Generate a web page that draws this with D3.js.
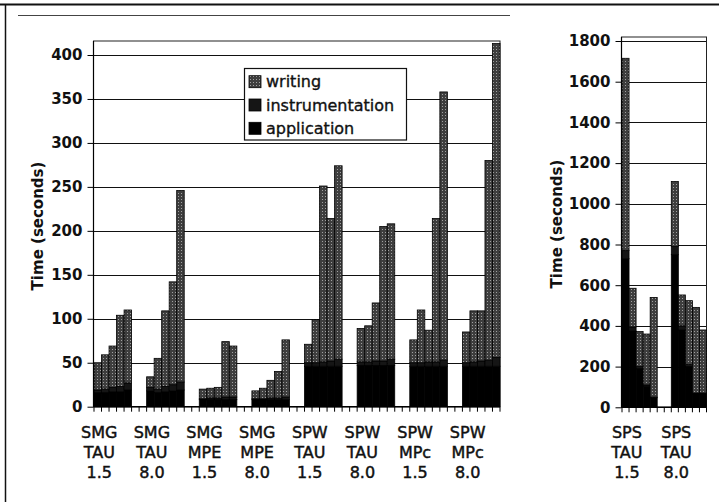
<!DOCTYPE html>
<html>
<head>
<meta charset="utf-8">
<script src="https://cdn.jsdelivr.net/npm/d3@7"></script>
<style>
  body { margin: 0; background: #fff; }
  svg { display: block; }
  text { font-family: "DejaVu Sans", Verdana, sans-serif; fill: #111; }
</style>
</head>
<body>
<svg id="chart" width="719" height="502"></svg>
<script>
// ---- data (seconds), 5 runs per configuration ----
const groupsLeft = ["SMG TAU 1.5", "SMG TAU 8.0", "SMG MPE 1.5", "SMG MPE 8.0",
                    "SPW TAU 1.5", "SPW TAU 8.0", "SPW MPc 1.5", "SPW MPc 8.0"];
const applicationLeft = [
  [16, 16, 17, 17, 19], [18, 16, 17, 18, 19], [8, 8, 8, 8, 8], [8, 8, 8, 8, 8],
  [46, 46, 46, 46, 46], [47, 47, 47, 47, 47], [46, 46, 46, 46, 46], [46, 46, 46, 46, 46]
];
const instrumentationLeft = [
  [3, 4, 5, 6, 8], [4, 4, 6, 7, 9], [1, 2, 2, 3, 3], [1, 1, 2, 2, 3],
  [4, 4, 5, 6, 8], [4, 4, 5, 5, 7], [4, 4, 5, 5, 7], [4, 5, 6, 7, 10]
];
const writingLeft = [
  [31, 39, 47, 81, 83], [12, 35, 86, 117, 218], [11, 11, 12, 63, 58], [9, 12, 20, 30, 65],
  [21, 49, 200, 162, 220], [38, 41, 66, 153, 154], [26, 60, 36, 163, 305], [35, 58, 57, 227, 357]
];
const ticksLeft = [0, 50, 100, 150, 200, 250, 300, 350, 400];

const groupsRight = ["SPS TAU 1.5", "SPS TAU 8.0"];
const applicationRight = [[730, 375, 190, 104, 47], [750, 380, 200, 66, 66]];
const instrumentationRight = [[40, 20, 10, 6, 3], [40, 20, 10, 4, 4]];
const writingRight = [[945, 190, 172, 250, 490], [320, 152, 314, 421, 310]];
const ticksRight = [0, 200, 400, 600, 800, 1000, 1200, 1400, 1600, 1800];

const seriesKeys = ["application", "instrumentation", "writing"];
const legendKeys = ["writing", "instrumentation", "application"];

const svg = d3.select("#chart");
svg.append("rect").attr("width", 719).attr("height", 502).attr("fill", "#fff");

// stippled grey fill like the printed "writing" pattern
const defs = svg.append("defs");
const pat = defs.append("pattern").attr("id", "stipple")
  .attr("patternUnits", "userSpaceOnUse").attr("width", 3).attr("height", 3);
pat.append("rect").attr("width", 3).attr("height", 3).attr("fill", "#3e3e3e");
pat.append("rect").attr("x", 1).attr("y", 1).attr("width", 1).attr("height", 1).attr("fill", "#a0a0a0");

const fills = { application: "#000", instrumentation: "#151515", writing: "url(#stipple)" };

// page frame from the scan
svg.append("line").attr("x1", 0).attr("x2", 719).attr("y1", 4.5).attr("y2", 4.5)
  .attr("stroke", "#111").attr("stroke-width", 2);
svg.append("line").attr("x1", 5.5).attr("x2", 5.5).attr("y1", 4).attr("y2", 502)
  .attr("stroke", "#111").attr("stroke-width", 1.5);
svg.append("line").attr("x1", 18).attr("x2", 510).attr("y1", 15.5).attr("y2", 15.5)
  .attr("stroke", "#444").attr("stroke-width", 1);

function drawPanel(p) {
  // category slots: 5 bars per group, 2 empty slots between groups
  const cats = [];
  const rows = [];
  p.groups.forEach((g, gi) => {
    for (let i = 0; i < 5; i++) {
      const id = g + "#" + i;
      cats.push(id);
      rows.push({ id: id, application: p.app[gi][i],
                  instrumentation: p.instr[gi][i], writing: p.writing[gi][i] });
    }
    if (gi < p.groups.length - 1) cats.push(g + "#gapA", g + "#gapB");
  });

  const x = d3.scaleBand().domain(cats).range(p.xRange).padding(0);
  const y = d3.scaleLinear().domain([0, p.yMax]).range(p.yRange);
  const y0 = y(0);
  const top = p.frameTop;
  const g = svg.append("g");

  // gridlines
  g.selectAll(".grid").data(p.ticks.filter(d => d > 0)).enter().append("line")
    .attr("x1", p.xRange[0]).attr("x2", p.xRange[1])
    .attr("y1", d => Math.round(y(d)) + 0.5).attr("y2", d => Math.round(y(d)) + 0.5)
    .attr("stroke", "#111").attr("stroke-width", 1);

  // plot frame
  g.append("rect").attr("x", p.xRange[0] - 0.5).attr("y", top)
    .attr("width", p.xRange[1] - p.xRange[0] + 0.5).attr("height", y0 - top)
    .attr("fill", "none").attr("stroke", "#222").attr("stroke-width", 1);

  // stacked bars
  const stacked = d3.stack().keys(seriesKeys)(rows);
  const layer = g.selectAll(".layer").data(stacked).enter().append("g")
    .attr("fill", d => fills[d.key]);
  layer.selectAll("rect").data(d => d).enter().append("rect")
    .attr("x", d => x(d.data.id))
    .attr("width", x.bandwidth())
    .attr("y", d => y(d[1]))
    .attr("height", d => y(d[0]) - y(d[1]))
    .attr("stroke", "#000").attr("stroke-width", 0.8);

  // y axis
  const yAxis = g.append("g").attr("transform", "translate(" + (p.xRange[0] - 0.5) + ",0)")
    .call(d3.axisLeft(y).tickValues(p.ticks).tickFormat(d3.format("d")).tickSize(6).tickPadding(5));
  yAxis.select(".domain").remove();
  yAxis.append("line").attr("y1", top).attr("y2", y0).attr("stroke", "#000").attr("stroke-width", 1.2);
  yAxis.selectAll(".tick line").attr("stroke", "#000");
  yAxis.selectAll(".tick text")
    .style("font-family", "'DejaVu Sans', Verdana, sans-serif")
    .style("font-size", "15px").style("font-weight", "bold").attr("fill", "#111");

  // x axis line and category tick marks
  g.append("line").attr("x1", p.xRange[0] - 0.5).attr("x2", p.xRange[1])
    .attr("y1", y0).attr("y2", y0).attr("stroke", "#000").attr("stroke-width", 1.5);
  const bounds = d3.range(cats.length + 1).map(i => p.xRange[0] + i * x.step());
  g.selectAll(".xt").data(bounds).enter().append("line")
    .attr("x1", d => d).attr("x2", d => d)
    .attr("y1", y0).attr("y2", y0 + 5)
    .attr("stroke", "#000").attr("stroke-width", 1);

  // group labels, three lines each
  p.groups.forEach(gr => {
    const cx = x(gr + "#0") + x.bandwidth() * 0.7;
    const t = g.append("text").attr("text-anchor", "middle")
      .style("font-size", "16px").style("stroke", "#111").style("stroke-width", 0.45);
    gr.split(" ").forEach((w, i) => {
      t.append("tspan").attr("x", cx).attr("y", 437.5 + i * 20.3).text(w);
    });
  });

  // y title
  g.append("text")
    .attr("transform", "translate(" + p.titleX + "," + p.titleY + ") rotate(-90)")
    .attr("text-anchor", "middle")
    .style("font-size", "15px").style("font-weight", "bold")
    .text("Time (seconds)");
}

drawPanel({
  groups: groupsLeft, app: applicationLeft, instr: instrumentationLeft, writing: writingLeft,
  ticks: ticksLeft, yMax: 400, xRange: [94, 500], yRange: [406.7, 55], frameTop: 41,
  titleX: 43, titleY: 226
});

drawPanel({
  groups: groupsRight, app: applicationRight, instr: instrumentationRight, writing: writingRight,
  ticks: ticksRight, yMax: 1800, xRange: [622, 706.5], yRange: [407.3, 41], frameTop: 37,
  titleX: 561.5, titleY: 224
});

// legend
const legend = svg.append("g");
legend.append("rect").attr("x", 244.5).attr("y", 68.5).attr("width", 162).attr("height", 71.5)
  .attr("fill", "#fff").attr("stroke", "#111").attr("stroke-width", 1.2);
legendKeys.forEach((k, i) => {
  const cy = 81.7 + i * 23.3;
  legend.append("rect").attr("x", 249).attr("y", cy - 6).attr("width", 12).attr("height", 12)
    .attr("fill", fills[k]).attr("stroke", "#000").attr("stroke-width", 0.8);
  legend.append("text").attr("x", 266).attr("y", cy).attr("dy", "0.35em")
    .style("font-size", "16px").style("stroke", "#111").style("stroke-width", 0.35)
    .text(k);
});
</script>
</body>
</html>
